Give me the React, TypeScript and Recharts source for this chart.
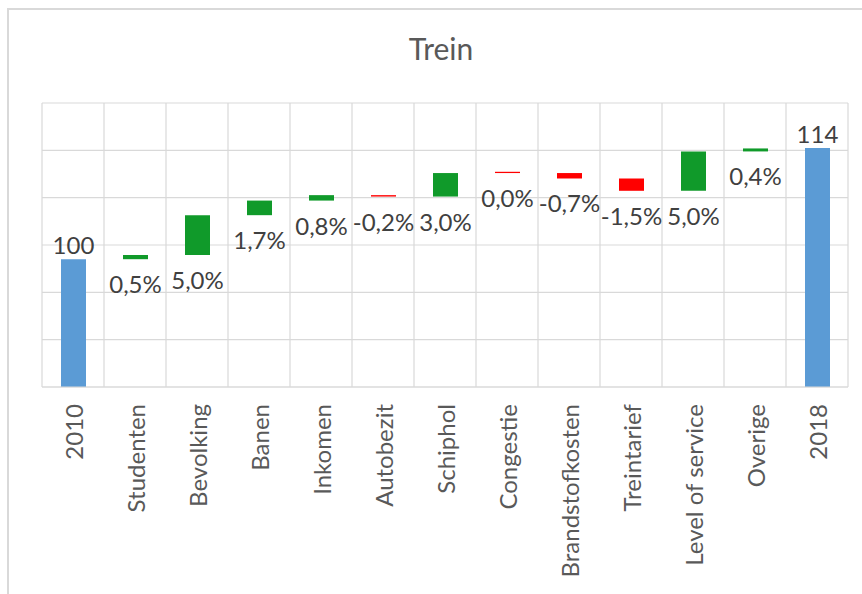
import React from "react";
import { BarChart, Bar, XAxis, YAxis, CartesianGrid, Cell, LabelList } from "recharts";

// Waterfall "Trein": each step drawn as a floating bar from low to high
const categories = [
  "2010",
  "Studenten",
  "Bevolking",
  "Banen",
  "Inkomen",
  "Autobezit",
  "Schiphol",
  "Congestie",
  "Brandstofkosten",
  "Treintarief",
  "Level of service",
  "Overige",
  "2018",
];
const lows = [0, 100.2, 100.73, 105.78, 107.63, 108.14, 108.14, 111.12, 110.43, 108.87, 108.87, 113.86, 0];
const highs = [100.2, 100.73, 105.78, 107.63, 108.32, 108.32, 111.12, 111.28, 111.12, 110.43, 113.86, 114.24, 114.29];
const valueLabels = ["100", "0,5%", "5,0%", "1,7%", "0,8%", "-0,2%", "3,0%", "0,0%", "-0,7%", "-1,5%", "5,0%", "0,4%", "114"];
const kinds = ["total", "up", "up", "up", "up", "down", "up", "down", "down", "down", "up", "up", "total"];
const yTicks = [84, 90, 96, 102, 108, 114, 120];

const COLORS: Record<string, string> = {
  total: "#5B9BD5",
  up: "#109A2A",
  down: "#FF0000",
};

const FONT = "Lato, 'Open Sans', sans-serif";

const data = categories.map((name, i) => ({
  name,
  base: lows[i],
  delta: highs[i] - lows[i],
}));

const CategoryTick = ({ x, y, payload }: any) => (
  <text
    x={x}
    y={y}
    transform={`rotate(-90 ${x} ${y})`}
    textAnchor="end"
    dominantBaseline="central"
    fontFamily={FONT}
    fontSize={24}
    fill="#595959"
  >
    {payload.value}
  </text>
);

const renderValueLabel = (props: any) => {
  const { x, y, width, height, index } = props;
  const cx = Number(x) + Number(width) / 2;
  const isTotal = kinds[index] === "total";
  const ty = isTotal ? Number(y) - 5 : Number(y) + Number(height) + 34;
  return (
    <text x={cx} y={ty} textAnchor="middle" fontFamily={FONT} fontSize={24} fill="#404040">
      {valueLabels[index]}
    </text>
  );
};

export default function App() {
  return (
    <div
      style={{
        position: "absolute",
        left: 0,
        top: 0,
        width: 862,
        height: 594,
        overflow: "hidden",
        background: "#fff",
      }}
    >
      <div
        style={{
          position: "absolute",
          left: 7,
          top: 8,
          width: 900,
          height: 640,
          border: "2px solid #d9d9d9",
        }}
      />
      <svg width={862} height={80} style={{ position: "absolute", left: 0, top: 0 }}>
        <text x={441} y={60} textAnchor="middle" fontFamily={FONT} fontSize={30} fill="#595959">
          Trein
        </text>
      </svg>
      <div style={{ position: "absolute", left: 0, top: 0 }}>
        <BarChart
          width={862}
          height={594}
          data={data}
          margin={{ top: 103, right: 14, bottom: 7, left: 42 }}
          barSize={25}
        >
          <CartesianGrid
            stroke="#d9d9d9"
            strokeWidth={1.2}
            verticalCoordinatesGenerator={({ offset }: any) =>
              Array.from(
                { length: categories.length + 1 },
                (_, i) => offset.left + (i * offset.width) / categories.length
              )
            }
          />
          <XAxis
            dataKey="name"
            interval={0}
            height={200}
            tickLine={false}
            tickSize={0}
            tickMargin={17}
            axisLine={{ stroke: "#d9d9d9", strokeWidth: 1.2 }}
            tick={<CategoryTick />}
          />
          <YAxis hide type="number" domain={[84, 120]} ticks={yTicks} allowDataOverflow />
          <Bar dataKey="base" stackId="w" fill="transparent" isAnimationActive={false} />
          <Bar dataKey="delta" stackId="w" isAnimationActive={false}>
            {data.map((_, i) => (
              <Cell key={categories[i]} fill={COLORS[kinds[i]]} />
            ))}
            <LabelList dataKey="delta" content={renderValueLabel} />
          </Bar>
        </BarChart>
      </div>
    </div>
  );
}
